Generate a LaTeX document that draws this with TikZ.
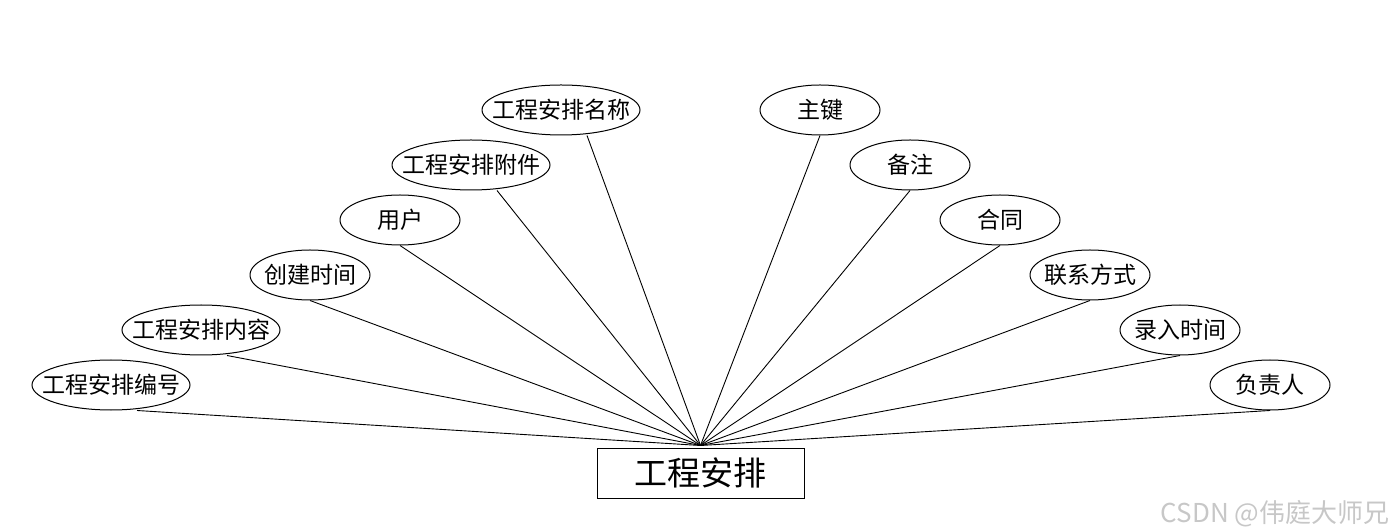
\documentclass[tikz,border=0pt]{standalone}
\usepackage{fontspec}
\setmainfont{Noto Sans CJK SC}
\usetikzlibrary{shapes.geometric}

\begin{document}
\begin{tikzpicture}[
  x=0.5pt, y=-0.5pt,
  attr/.style={draw, ellipse, line width=0.5pt, inner ysep=0pt, inner xsep=-2pt,
               minimum width=60pt, minimum height=25pt, font=\fontsize{11.5}{12}\selectfont},
  wide/.style={attr, inner xsep=-6.6pt, minimum width=79pt},
  ent/.style={draw, line width=0.5pt, minimum width=103.5pt,
              minimum height=25pt, font=\fontsize{16.5}{18}\selectfont},
  link/.style={line width=0.45pt}
]
  \useasboundingbox (0, 0) rectangle (1400, 528);

  \node[ent] (e) at (700.5, 473) {工程安排};
  \coordinate (hub) at ([yshift=1pt]e.north);

  \node[wide] (bh)  at (111, 385) {工程安排编号};
  \node[wide] (nr)  at (201, 330) {工程安排内容};
  \node[attr] (cj)  at (310, 275) {创建时间};
  \node[attr] (yh)  at (400, 220) {用户};
  \node[wide] (fj)  at (471, 165) {工程安排附件};
  \node[wide] (mc)  at (561, 110) {工程安排名称};
  \node[attr] (zj)  at (820, 110) {主键};
  \node[attr] (bz)  at (910, 165) {备注};
  \node[attr] (ht)  at (1000, 220) {合同};
  \node[attr] (lx)  at (1090, 275) {联系方式};
  \node[attr] (lr)  at (1180, 330) {录入时间};
  \node[attr] (fz)  at (1270, 385) {负责人};

  \draw[link] ([xshift=13pt]bh.south) -- (hub);
  \draw[link] ([xshift=13pt]nr.south) -- (hub);
  \draw[link] (cj.south) -- (hub);
  \draw[link] (yh.south) -- (hub);
  \draw[link] ([xshift=13pt]fj.south) -- (hub);
  \draw[link] ([xshift=13pt]mc.south) -- (hub);
  \draw[link] (zj.south) -- (hub);
  \draw[link] (bz.south) -- (hub);
  \draw[link] (ht.south) -- (hub);
  \draw[link] (lx.south) -- (hub);
  \draw[link] (lr.south) -- (hub);
  \draw[link] (fz.south) -- (hub);

  \node[text=black!22, font=\fontsize{13}{15}\selectfont] (wm) at (1275, 514) {CSDN @伟庭大师兄};
\end{tikzpicture}
\end{document}
